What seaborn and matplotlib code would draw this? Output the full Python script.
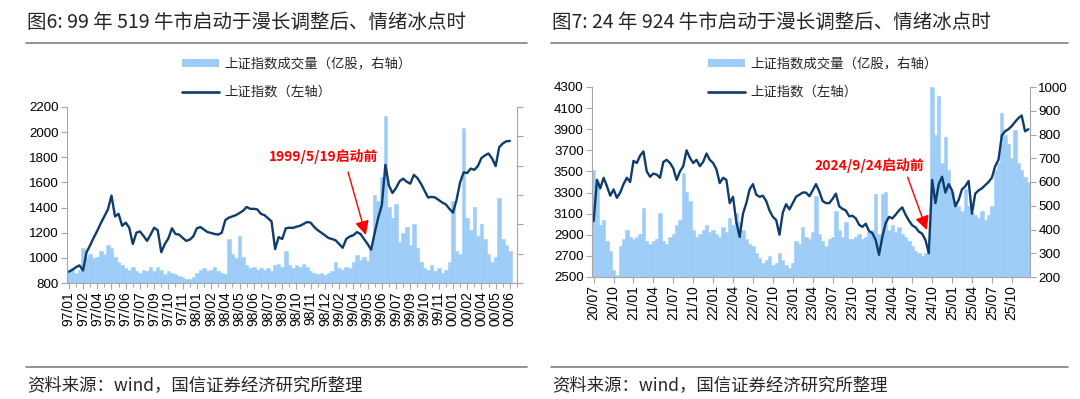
import numpy as np
import pandas as pd
import matplotlib
matplotlib.use("Agg")
import matplotlib.pyplot as plt
import seaborn as sns
from matplotlib.patches import Patch
from matplotlib.lines import Line2D

sns.set_style("ticks")
plt.rcParams['font.family'] = ['Noto Sans CJK SC', 'DejaVu Sans']
plt.rcParams['axes.unicode_minus'] = False

BAR_COLOR = '#9DCCF7'
LINE_COLOR = '#0E3C6C'
AXIS_GRAY = '#A6A6A6'

# ---- panel 1: 1997/01 - 2000/06 (4 points per tick label) ----
left_labels = ['97/01', '97/02', '97/04', '97/05', '97/06', '97/07', '97/09', '97/10',
               '97/11', '98/01', '98/02', '98/04', '98/05', '98/06', '98/07', '98/09',
               '98/10', '98/11', '98/12', '99/02', '99/04', '99/05', '99/06', '99/07',
               '99/09', '99/10', '99/11', '00/01', '00/02', '00/04', '00/05', '00/06']

left_index = [890, 905, 925, 940, 900, 1045, 1100, 1160,
              1215, 1275, 1330, 1385, 1495, 1330, 1350, 1255,
              1280, 1240, 1110, 1200, 1210, 1175, 1135, 1185,
              1240, 1220, 1045, 1110, 1155, 1235, 1190, 1185,
              1160, 1135, 1145, 1170, 1235, 1245, 1225, 1205,
              1198, 1190, 1185, 1200, 1300, 1320, 1330, 1340,
              1357, 1375, 1405, 1390, 1390, 1385, 1350, 1340,
              1315, 1290, 1070, 1165, 1150, 1235, 1240, 1238,
              1248, 1255, 1270, 1285, 1280, 1245, 1220, 1200,
              1180, 1158, 1150, 1140, 1110, 1080, 1150, 1170,
              1180, 1205, 1190, 1150, 1110, 1065, 1200, 1320,
              1420, 1740, 1575, 1516, 1556, 1610, 1630, 1605,
              1590, 1660, 1635, 1590, 1535, 1480, 1485, 1480,
              1460, 1440, 1425, 1390, 1360, 1460, 1600, 1680,
              1675, 1710, 1700, 1730, 1794, 1815, 1830, 1790,
              1730, 1880, 1910, 1927, 1930]

left_volume = [4, 5, 3.5, 4.5, 12, 9, 10, 8.5,
               9, 11, 10, 13, 12, 9, 7, 6,
               5, 4.5, 5.5, 4, 3.5, 4.5, 4, 5.5,
               4, 5.5, 4.5, 3, 4, 3.5, 3, 2.5,
               2, 1.5, 1.2, 2, 3.5, 4.5, 5, 4,
               4.5, 5.5, 4, 3.5, 3, 15, 10, 8.5,
               16, 9, 6, 5, 5.5, 4.5, 5, 4.5,
               5, 4, 6, 6.5, 5.5, 11, 6, 5,
               6, 5.5, 6.5, 5.5, 4, 3.5, 3, 3.5,
               2.8, 3.5, 4, 7, 5, 4.5, 5.5, 5,
               7, 9.5, 8, 9, 7.5, 12, 30, 28,
               36, 57, 26, 22, 27, 14, 17, 19,
               13, 20, 12, 7, 5, 4.5, 6, 4,
               5, 3.5, 4.5, 7, 28, 11, 10, 53,
               22, 18, 26, 16, 20, 15, 10, 7,
               9, 29, 15, 13, 11]

# ---- panel 2: 2020/07 - 2025/12 (6 points per tick label) ----
right_labels = ['20/07', '20/10', '21/01', '21/04', '21/07', '21/10', '22/01', '22/04',
                '22/07', '22/10', '23/01', '23/04', '23/07', '23/10', '24/01', '24/04',
                '24/07', '24/10', '25/01', '25/04', '25/07', '25/10']

right_index = [3030, 3420, 3340, 3440, 3360, 3270, 3330, 3250, 3300, 3380, 3440, 3400,
               3600, 3580, 3650, 3690, 3500, 3450, 3480, 3470, 3440, 3590, 3610, 3580,
               3530, 3420, 3500, 3550, 3700, 3630, 3580, 3610, 3550, 3590, 3670, 3610,
               3580, 3520, 3390, 3440, 3420, 3200, 3260, 3020, 2880, 3100, 3200, 3330,
               3380, 3280, 3260, 3270, 3220, 3130, 3070, 3040, 2900, 3110, 3190, 3140,
               3200, 3260, 3280, 3300, 3300, 3265, 3320, 3380, 3310, 3220, 3200, 3200,
               3240, 3290, 3170, 3145, 3130, 3075, 3080, 3055, 2995, 2975, 3005, 2935,
               2915, 2850, 2710, 2880, 3010, 3070, 3055, 3090, 3130, 3160, 3090, 3035,
               2990, 2970, 2930, 2910, 2850, 2725, 3420, 3200, 3380, 3450, 3300, 3380,
               3320, 3170, 3230, 3330, 3360, 3410, 3100, 3290, 3320, 3340, 3370, 3400,
               3440, 3550, 3610, 3840, 3880, 3900, 3930, 3970, 4005, 4030, 3880, 3900]

right_volume = [650, 600, 420, 440, 350, 310, 230, 210, 330, 360, 400, 370,
                360, 370, 380, 490, 350, 340, 350, 360, 470, 350, 340, 370,
                380, 420, 440, 640, 560, 520, 400, 370, 380, 400, 420, 390,
                400, 380, 370, 410, 390, 450, 420, 470, 430, 400, 360, 340,
                330, 300, 280, 260, 270, 290, 250, 260, 300, 270, 250, 240,
                260, 350, 340, 410, 370, 360, 390, 540, 380, 350, 330, 360,
                370, 480, 400, 370, 430, 360, 360, 370, 380, 360, 370, 390,
                400, 550, 380, 550, 560, 400, 420, 390, 410, 380, 370, 350,
                330, 310, 300, 290, 300, 320, 1000, 800, 960, 680, 790, 650,
                560, 520, 500, 480, 570, 500, 470, 460, 450, 480, 440, 460,
                500, 650, 680, 890, 800, 760, 700, 820, 680, 650, 620, 600]

titles = ['图6: 99 年 519 牛市启动于漫长调整后、情绪冰点时',
          '图7: 24 年 924 牛市启动于漫长调整后、情绪冰点时']
legend_labels = ['上证指数成交量（亿股，右轴）', '上证指数（左轴）']
source_text = '资料来源：wind，国信证券经济研究所整理'

W, H = 1080, 399


def fx(px):
    return px / W


def fy(py):
    return 1 - py / H


def draw_panel(fig, rect, labels, per_label, index_vals, vol_vals,
               ylim, ystep, vlim, vstep, show_vol_labels, minor):
    ax = fig.add_axes(rect)
    ax2 = ax.twinx()
    n = len(index_vals)
    df = pd.DataFrame({'pos': np.arange(n), 'idx': index_vals, 'vol': vol_vals})

    sns.barplot(data=df, x='pos', y='vol', ax=ax2, color=BAR_COLOR, width=1.0,
                linewidth=0.4, edgecolor=BAR_COLOR, saturation=1,
                native_scale=True, errorbar=None)
    sns.lineplot(data=df, x='pos', y='idx', ax=ax, color=LINE_COLOR, lw=1.7)

    # index line above the volume bars
    ax.set_zorder(ax2.get_zorder() + 1)
    ax.patch.set_visible(False)

    ax.set_xlim(-0.5, n - 0.5)
    ax.set_ylim(*ylim)
    ax2.set_ylim(*vlim)
    ax.set_xlabel('')
    ax.set_ylabel('')
    ax2.set_ylabel('')

    yt = np.arange(ylim[0], ylim[1] + 1, ystep)
    ax.set_yticks(yt)
    ax.set_yticklabels([str(v) for v in yt], fontfamily='Liberation Sans', fontsize=9.6)
    vt = np.arange(vlim[0], vlim[1] + 1, vstep)
    ax2.set_yticks(vt)
    if show_vol_labels:
        ax2.set_yticklabels([str(v) for v in vt], fontfamily='Liberation Sans', fontsize=9.6)
    else:
        ax2.set_yticklabels([])

    xt = np.arange(len(labels)) * per_label
    ax.set_xticks(xt)
    ax.set_xticklabels(labels, rotation=90, fontfamily='Liberation Sans', fontsize=10)
    if minor:
        ax.set_xticks(xt + per_label / 2, minor=True)

    for a in (ax, ax2):
        a.spines['top'].set_visible(False)
        for s in a.spines.values():
            s.set_color(AXIS_GRAY)
            s.set_linewidth(0.8)
        a.tick_params(which='both', color=AXIS_GRAY, length=4, width=0.8,
                      labelcolor='black', pad=2)
    ax.spines['right'].set_visible(False)
    ax2.spines['left'].set_visible(False)
    ax2.spines['bottom'].set_visible(False)
    ax.tick_params(axis='x', which='minor', length=3)
    return ax


fig = plt.figure(figsize=(W / 100, H / 100), dpi=100)

ax_l = draw_panel(fig, [fx(67), fy(283), fx(517 - 67), (283 - 107) / H],
                  left_labels, 4, left_index, left_volume,
                  (800, 2200), 200, (0, 60), 10, False, True)
ax_r = draw_panel(fig, [fx(592), fy(277), fx(1030 - 592), (277 - 87) / H],
                  right_labels, 6, right_index, right_volume,
                  (2500, 4300), 200, (200, 1000), 100, True, False)

# annotations
arrow = dict(arrowstyle='-|>,head_length=0.6,head_width=0.3', color='red',
             lw=1.0, mutation_scale=14, shrinkA=0, shrinkB=0)
ax_l.text(71.5, 1810, '1999/5/19启动前', color='red', fontweight='bold',
          fontsize=10, ha='center', va='center')
ax_l.annotate('', xy=(83.5, 1182), xytext=(78.5, 1683), arrowprops=arrow)
ax_r.text(83.2, 3552, '2024/9/24启动前', color='red', fontweight='bold',
          fontsize=10, ha='center', va='center')
ax_r.annotate('', xy=(100.4, 2945), xytext=(94.6, 3447), arrowprops=arrow)

# legends
handles = [Patch(facecolor=BAR_COLOR, edgecolor='none'),
           Line2D([], [], color=LINE_COLOR, lw=1.9)]
for x0 in (182, 708):
    fig.legend(handles, legend_labels, loc='upper left',
               bbox_to_anchor=(fx(x0), fy(57)), frameon=False, fontsize=9.6,
               handlelength=2.8, handleheight=0.5, handletextpad=0.4,
               labelspacing=1.05, borderpad=0, borderaxespad=0)

# titles, rules and source notes
for x0, x1, title in ((27, 527, titles[0]), (552, 1068, titles[1])):
    fig.text(fx(x0), fy(22), title, fontsize=14, va='center', ha='left')
    fig.add_artist(Line2D([fx(x0 - 1), fx(x1)], [fy(43), fy(43)],
                          color='#808080', lw=1.2, transform=fig.transFigure))
    fig.add_artist(Line2D([fx(x0 - 1), fx(x1)], [fy(367), fy(367)],
                          color='#808080', lw=1.2, transform=fig.transFigure))
    fig.text(fx(x0), fy(385), source_text, fontsize=12.5, va='center', ha='left')

fig.savefig('out.png', dpi=100)
